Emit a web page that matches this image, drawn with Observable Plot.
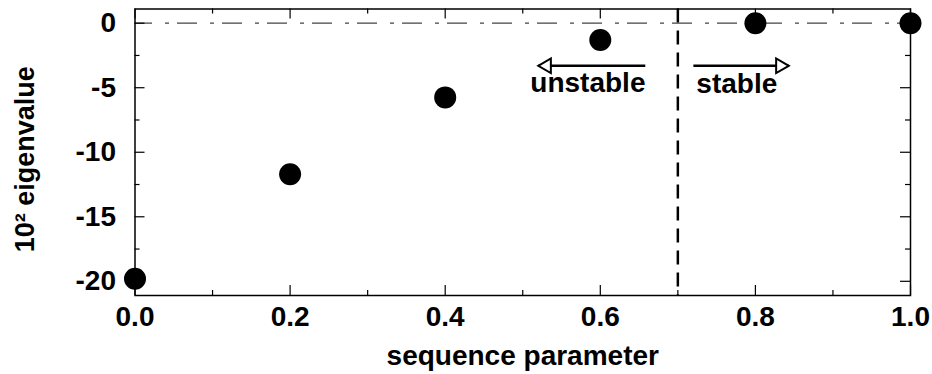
<!DOCTYPE html>
<html>
<head>
<meta charset="utf-8">
<script src="https://cdn.jsdelivr.net/npm/d3@7"></script>
<script src="https://cdn.jsdelivr.net/npm/@observablehq/plot@0.6"></script>
<style>
  body { margin: 0; background: #fff; }
</style>
</head>
<body>
<div id="chart"></div>
<script>
// Eigenvalue (×10²) along the sequence parameter
const param = [0.0, 0.2, 0.4, 0.6, 0.8, 1.0];
const eigen = [-19.8, -11.7, -5.75, -1.3, 0.0, 0.0];

// Axis ticks
const xTicks = [0.0, 0.2, 0.4, 0.6, 0.8, 1.0];
const xMinor = [0.1, 0.3, 0.5, 0.7, 0.9];
const yTicks = [0, -5, -10, -15, -20];
const yMinor = [-2.5, -7.5, -12.5, -17.5];

// Stability boundary and its annotations
const boundary = 0.7;
const arrowY = -3.3;
const arrowFrom = [0.658, 0.72];
const arrowTo = [0.52, 0.843];
const arrowDir = ["left", "right"];
const labelText = ["unstable", "stable"];
const labelX = [0.584, 0.776];
const labelY = [-4.6, -4.7];

const points = param.map((p, i) => ({p, v: eigen[i]}));
const arrows = arrowFrom.map((f, i) => ({from: f, to: arrowTo[i], dir: arrowDir[i]}));
const labels = labelText.map((t, i) => ({t, x: labelX[i], y: labelY[i]}));

const W = 932, H = 374;
const mTop = 8.5, mBottom = 79, mLeft = 134.5, mRight = 22;
const frameH = H - mTop - mBottom;
const frameW = W - mLeft - mRight;
const major = 10, minor = 5;
const tri = 4.2; // triangle half-unit (tip sits 2*tri from its centre)
const triR = Math.sqrt(tri * tri * 3 * Math.sqrt(3) / Math.PI);

// open arrowhead whose tip lands on the arrow end
const head = (dir) => Plot.dot(arrows.filter(d => d.dir === dir), {
  x: "to", y: () => arrowY,
  symbol: "triangle",
  r: triR,
  rotate: dir === "right" ? 90 : -90,
  dx: dir === "right" ? -2 * tri : 2 * tri,
  fill: "white", stroke: "black", strokeWidth: 2
});

const chart = Plot.plot({
  width: W,
  height: H,
  marginTop: mTop,
  marginBottom: mBottom,
  marginLeft: mLeft,
  marginRight: mRight,
  style: {
    fontFamily: "'Liberation Sans', Arial, sans-serif",
    fontWeight: "bold",
    fontSize: "28px",
    color: "black",
    background: "white"
  },
  x: {domain: [0, 1]},
  y: {domain: [-21.1, 1.1]},
  marks: [
    // zero line
    Plot.ruleY([0], {stroke: "#444", strokeWidth: 1.3, strokeDasharray: "20,13,4,8", strokeDashoffset: 2.5}),
    // stability boundary
    Plot.ruleX([boundary], {stroke: "black", strokeWidth: 2.5, strokeDasharray: "14,8"}),

    // inward ticks on all four sides
    Plot.ruleX(xTicks, {insetTop: frameH - major, stroke: "black", strokeWidth: 1.2}),
    Plot.ruleX(xTicks, {insetBottom: frameH - major, stroke: "black", strokeWidth: 1.2}),
    Plot.ruleX(xMinor, {insetTop: frameH - minor, stroke: "black", strokeWidth: 1.2}),
    Plot.ruleX(xMinor, {insetBottom: frameH - minor, stroke: "black", strokeWidth: 1.2}),
    Plot.ruleY(yTicks, {insetRight: frameW - major, stroke: "black", strokeWidth: 1.2}),
    Plot.ruleY(yTicks, {insetLeft: frameW - major, stroke: "black", strokeWidth: 1.2}),
    Plot.ruleY(yMinor, {insetRight: frameW - minor, stroke: "black", strokeWidth: 1.2}),
    Plot.ruleY(yMinor, {insetLeft: frameW - minor, stroke: "black", strokeWidth: 1.2}),

    Plot.frame({stroke: "black", strokeWidth: 1.5}),

    Plot.axisX(xTicks, {tickSize: 0, tickPadding: 11, tickFormat: d3.format(".1f"), label: null}),
    Plot.axisY(yTicks, {tickSize: 0, tickPadding: 19, tickFormat: d => String(d), label: null}),

    // axis titles
    Plot.text(["sequence parameter"], {frameAnchor: "bottom", dy: 69, text: d => d}),
    Plot.text(["10² eigenvalue"], {
      frameAnchor: "left", dx: -110, dy: 7, rotate: -90,
      textAnchor: "middle", lineAnchor: "middle", fontSize: 27, text: d => d
    }),

    // arrows with open heads
    Plot.link(arrows, {x1: "from", x2: "to", y1: () => arrowY, y2: () => arrowY, stroke: "black", strokeWidth: 2.5}),
    head("left"),
    head("right"),
    Plot.text(labels, {x: "x", y: "y", text: "t", fontSize: 28}),

    // eigenvalues
    Plot.dot(points, {x: "p", y: "v", r: 11, fill: "black"})
  ]
});

document.getElementById("chart").append(chart);
</script>
</body>
</html>
